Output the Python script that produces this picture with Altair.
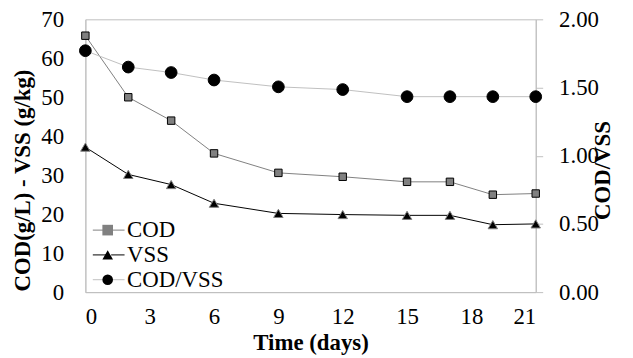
import altair as alt
import pandas as pd

days = [0, 2, 4, 6, 9, 12, 15, 17, 19, 21]
cod = [65.8, 50.0, 44.0, 35.6, 30.6, 29.6, 28.3, 28.3, 25.0, 25.3]
vss = [37.2, 30.2, 27.6, 22.8, 20.2, 19.9, 19.7, 19.7, 17.3, 17.5]
ratio = [1.77, 1.65, 1.61, 1.555, 1.505, 1.485, 1.433, 1.433, 1.433, 1.433]

series = ["COD", "VSS", "COD/VSS"]
line_keys = ["COD_line", "VSS_line", "COD/VSS_line"]
line_colors = ["#808080", "#000000", "#bfbfbf"]
fill_colors = ["#808080", "#000000", "#000000"]
shapes = ["square", "triangle-up", "circle"]

left = pd.DataFrame({
    "day": days * 2,
    "value": cod + vss,
    "series": ["COD"] * len(days) + ["VSS"] * len(days),
})
left["sl"] = left["series"] + "_line"
right = pd.DataFrame({"day": days, "value": ratio, "series": ["COD/VSS"] * len(days)})
right["sl"] = right["series"] + "_line"

FONT = "Liberation Serif, Times New Roman, serif"
AX = "#bfbfbf"
TICK_FS = 23
TITLE_FS = 23
LEG_FS = 23

x_enc = alt.X("day:Q", scale=alt.Scale(domain=[0, 21], nice=False),
              axis=alt.Axis(values=[0, 3, 6, 9, 12, 15, 18, 21], title="Time (days)",
                            grid=False, ticks=False, domainColor=AX, labelPadding=14,
                            titlePadding=3, labelFontSize=TICK_FS, titleFontSize=TITLE_FS,
                            labelFont=FONT, titleFont=FONT, titleFontWeight="bold",
                            labelColor="#000", titleColor="#000"))

y_left = alt.Y("value:Q", scale=alt.Scale(domain=[0, 70], nice=False),
               axis=alt.Axis(values=[0, 10, 20, 30, 40, 50, 60, 70], title="COD(g/L) - VSS (g/kg)",
                             grid=False, ticks=False, domainColor=AX, labelPadding=22,
                             labelFontSize=TICK_FS, titleFontSize=TITLE_FS, labelFont=FONT,
                             titleFont=FONT, titleFontWeight="bold", labelColor="#000",
                             titleColor="#000", titleX=-63, titleY=162, titleBaseline="middle",
                             titleAngle=270))

y_right = alt.Y("value:Q", scale=alt.Scale(domain=[0, 2], nice=False),
                axis=alt.Axis(orient="right", values=[0, 0.5, 1.0, 1.5, 2.0], format=".2f",
                              title="COD/VSS", grid=False, ticks=True, tickSize=7, tickColor=AX,
                              domainColor=AX, labelPadding=16, labelFontSize=TICK_FS,
                              titleFontSize=TITLE_FS, labelFont=FONT, titleFont=FONT,
                              titleFontWeight="bold", labelColor="#000", titleColor="#000",
                              titleAngle=270, titleBaseline="middle", titleX=67, titleY=152))

line_legend = alt.Legend(title=None, orient="none", legendX=6, legendY=201,
                         symbolType="M-3.2,0H-0.5M0.5,0H3.2", symbolSize=100, symbolStrokeWidth=1,
                         labelExpr="' '", labelFontSize=LEG_FS, labelFont=FONT, rowPadding=1,
                         symbolOffset=6)
point_legend = alt.Legend(title=None, orient="none", legendX=6, legendY=201,
                          symbolSize=115, symbolStrokeColor="#000", symbolStrokeWidth=1,
                          labelFontSize=LEG_FS, labelFont=FONT, labelColor="#000", rowPadding=1,
                          symbolOffset=5, labelOffset=8)

stroke_enc = alt.Stroke("sl:N", scale=alt.Scale(domain=line_keys, range=line_colors), legend=line_legend)
fill_enc = alt.Fill("series:N", scale=alt.Scale(domain=series, range=fill_colors), legend=point_legend)
shape_enc = alt.Shape("series:N", scale=alt.Scale(domain=series, range=shapes), legend=point_legend)

left_lines = alt.Chart(left).mark_line(strokeWidth=1).encode(x=x_enc, y=y_left, stroke=stroke_enc)
cod_pts = alt.Chart(left).transform_filter(alt.datum.series == "COD").mark_point(
    filled=True, size=56, stroke="#000", strokeWidth=1, opacity=1).encode(
    x=x_enc, y=y_left, fill=fill_enc, shape=shape_enc)
vss_pts = alt.Chart(left).transform_filter(alt.datum.series == "VSS").mark_point(
    filled=True, size=90, stroke="#808080", strokeWidth=1, opacity=1).encode(
    x=x_enc, y=y_left, fill=fill_enc, shape=shape_enc)
left_layer = alt.layer(left_lines, cod_pts, vss_pts)

right_line = alt.Chart(right).mark_line(strokeWidth=1).encode(x=x_enc, y=y_right, stroke=stroke_enc)
right_pts = alt.Chart(right).mark_point(filled=True, size=140, stroke="#000", strokeWidth=1,
                                         opacity=1).encode(x=x_enc, y=y_right, fill=fill_enc,
                                                           shape=shape_enc)
right_layer = alt.layer(right_line, right_pts)

chart = alt.layer(left_layer, right_layer).resolve_scale(y="independent").properties(
    width=454, height=275,
    autosize=alt.AutoSizeParams(type="none"),
    padding={"left": 78, "top": 10, "right": 90, "bottom": 65},
).configure(background="white", font=FONT).configure_view(stroke=AX, strokeWidth=1)

chart.save("out.html", embed_options={"renderer": "svg", "actions": False})
